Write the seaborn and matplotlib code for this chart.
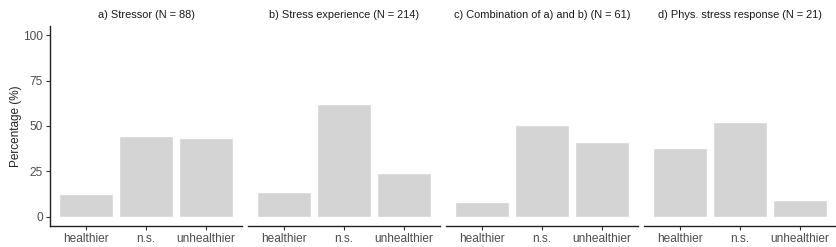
#!/usr/bin/env python3

import matplotlib
matplotlib.use('Agg')
import matplotlib.pyplot as plt
import pandas as pd
import seaborn as sns

# categories and percentages per panel
categories = ['healthier', 'n.s.', 'unhealthier']
titles = ['a) Stressor (N = 88)',
          'b) Stress experience (N = 214)',
          'c) Combination of a) and b) (N = 61)',
          'd) Phys. stress response (N = 21)']
stressor = [12.5, 44.3, 43.2]
stress_experience = [13.6, 62.1, 24.3]
combination = [8.2, 50.8, 41.0]
phys_response = [38.1, 52.4, 9.5]
y_ticks = [0, 25, 50, 75, 100]

sns.set_style('white')
plt.rcParams['font.family'] = ['Liberation Sans', 'DejaVu Sans']

fig, axes = plt.subplots(1, 4, figsize=(8.37, 2.47), dpi=100, sharey=True)
fig.subplots_adjust(left=50/837, right=836/837, top=1 - 26/247,
                    bottom=1 - 226/247, wspace=6/192)

for i, (ax, title, vals) in enumerate(zip(axes, titles,
        [stressor, stress_experience, combination, phys_response])):
    df = pd.DataFrame({'Outcome': categories, 'Percentage': vals})
    sns.barplot(data=df, x='Outcome', y='Percentage', ax=ax,
                color='#d4d4d4', saturation=1, width=0.9, errorbar=None)
    ax.set_xlim(-0.6, 2.6)
    ax.set_ylim(-5, 105)
    ax.set_yticks(y_ticks)
    ax.set_title(title, fontsize=7.9, color='#1a1a1a', pad=6)
    ax.set_xlabel('')
    for s in ['top', 'right']:
        ax.spines[s].set_visible(False)
    ax.spines['bottom'].set_color('#222222')
    ax.spines['bottom'].set_linewidth(1.0)
    ax.tick_params(axis='x', length=3, width=0.8, color='#333333',
                   labelsize=8.6, labelcolor='#4d4d4d', pad=2, bottom=True)
    if i == 0:
        ax.set_ylabel('Percentage (%)', fontsize=8.5, color='#222222',
                      labelpad=1)
        ax.spines['left'].set_color('#222222')
        ax.spines['left'].set_linewidth(1.0)
        ax.tick_params(axis='y', length=3, width=0.8, color='#333333',
                       labelsize=8.6, labelcolor='#4d4d4d', pad=2, left=True)
    else:
        ax.set_ylabel('')
        ax.spines['left'].set_visible(False)
        ax.tick_params(axis='y', left=False, labelleft=False)

plt.savefig('out.png', dpi=100)
